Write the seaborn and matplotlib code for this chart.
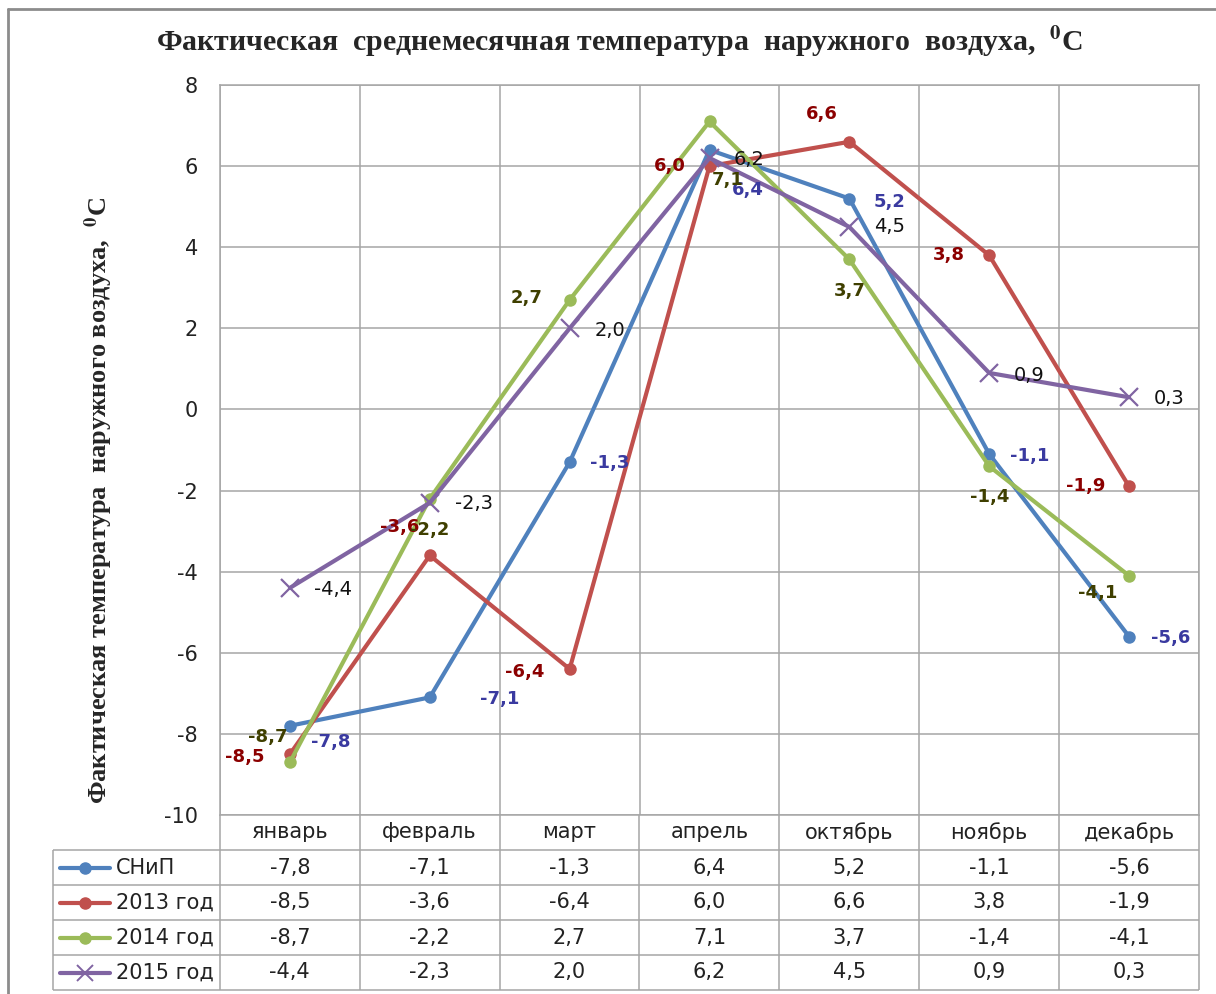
import pandas as pd
import matplotlib.pyplot as plt
import numpy as np
import seaborn as sns
from matplotlib.lines import Line2D

sns.set_style('white')
plt.rcParams['font.family'] = ['DejaVu Sans']
plt.rcParams['axes.unicode_minus'] = False
plt.rcParams['mathtext.fontset'] = 'stix'

months = ['январь', 'февраль', 'март', 'апрель', 'октябрь', 'ноябрь', 'декабрь']
series_names = ['СНиП', '2013 год', '2014 год', '2015 год']
snip = [-7.8, -7.1, -1.3, 6.4, 5.2, -1.1, -5.6]
y2013 = [-8.5, -3.6, -6.4, 6.0, 6.6, 3.8, -1.9]
y2014 = [-8.7, -2.2, 2.7, 7.1, 3.7, -1.4, -4.1]
y2015 = [-4.4, -2.3, 2.0, 6.2, 4.5, 0.9, 0.3]
all_values = [snip, y2013, y2014, y2015]

colors = ['#4F81BD', '#C0504D', '#9BBB59', '#8064A2']
label_colors = ['#3A3AA0', '#8B0000', '#3F3F00', '#111111']
label_weights = ['bold', 'bold', 'bold', 'normal']
label_sizes = [13, 13, 13, 14]

# label offsets in pixels (dx, dy), hand placed like the Excel labels
offsets = [
    [(41, -16), (70, -2), (40, -1), (38, -40), (40, -3), (40, -2), (42, -1)],
    [(-45, -3), (-30, 28), (-45, -3), (-40, 0), (-28, 28), (-40, 0), (-43, 0)],
    [(-22, 25), (0, -31), (-43, 2), (18, -58), (0, -32), (0, -31), (-31, -17)],
    [(43, -2), (44, -1), (40, -2), (40, -2), (40, 0), (40, -3), (40, -1)],
]

def fmt(v):
    return f'{v:.1f}'.replace('.', ',')

rows = []
for name, vals in zip(series_names, all_values):
    for i, v in enumerate(vals):
        rows.append({'series': name, 'x': i, 'val': v})
df = pd.DataFrame(rows)

W, H = 1216, 994
fig = plt.figure(figsize=(W / 100, H / 100), dpi=100)
ax = fig.add_axes([220 / W, 1 - 815 / H, 979 / W, 730 / H])

for s, name in enumerate(series_names):
    sub = df[df['series'] == name]
    if s < 3:
        sns.lineplot(data=sub, x='x', y='val', color=colors[s], linewidth=3,
                     marker='o', markersize=9, markeredgewidth=0, ax=ax, zorder=3 + s)
    else:
        sns.lineplot(data=sub, x='x', y='val', color=colors[s], linewidth=3,
                     marker='x', markersize=13, markeredgewidth=1.6,
                     markeredgecolor=colors[s], ax=ax, zorder=3 + s)

for s, vals in enumerate(all_values):
    for i, v in enumerate(vals):
        ax.annotate(fmt(v), (i, v), xytext=offsets[s][i], textcoords='offset pixels',
                    ha='center', va='center', fontsize=label_sizes[s], color=label_colors[s],
                    fontweight=label_weights[s], zorder=10)

ax.set_xlim(-0.5, 6.5)
ax.set_ylim(-10, 8)
ax.set_yticks(np.arange(-10, 9, 2))
ax.set_xticks(np.arange(-0.5, 7, 1))
ax.set_xticklabels([])
ax.grid(True, color='#A6A6A6', linewidth=1.1)
ax.tick_params(axis='y', length=0, pad=16, labelsize=15, labelcolor='#222222')
ax.tick_params(axis='x', length=0)
for sp in ax.spines.values():
    sp.set_color('#A6A6A6')
    sp.set_linewidth(1.1)
ax.set_xlabel('')
ax.set_ylabel('Фактическая температура  наружного воздуха,  $^{\\mathbf{0}}$С',
              fontsize=19, fontweight='bold', family='Liberation Serif')
ax.yaxis.set_label_coords((115 - 220) / 979, (815 - 500) / 730)

fig.text(620 / W, 1 - 42 / H,
         'Фактическая  среднемесячная температура  наружного  воздуха,  $^{\\mathbf{0}}$С',
         ha='center', va='center', fontsize=21.5, fontweight='bold', family='Liberation Serif')

# data table below the plot
tab = fig.add_axes([53 / W, 1 - 990 / H, 1146 / W, 175 / H])
left = -0.5 - 167 / 140
tab.set_xlim(left, 6.5)
tab.set_ylim(5, 0)
tab.axis('off')
gc = '#A6A6A6'
tab.hlines(np.arange(1, 6), left, 6.5, color=gc, linewidth=1.1, clip_on=False)
tab.vlines(np.arange(-0.5, 7, 1), 0, 5, color=gc, linewidth=1.1, clip_on=False)
tab.vlines([left], 1, 5, color=gc, linewidth=1.1, clip_on=False)
for i, m in enumerate(months):
    tab.text(i, 0.5, m, ha='center', va='center', fontsize=15, color='#222222')
for s, (name, vals) in enumerate(zip(series_names, all_values)):
    yc = s + 1.5
    tab.plot([left + 7 / 140, left + 57 / 140], [yc, yc], color=colors[s], linewidth=3,
             solid_capstyle='round', clip_on=False)
    if s < 3:
        tab.plot([left + 32 / 140], [yc], 'o', color=colors[s], markersize=8, clip_on=False)
    else:
        tab.plot([left + 32 / 140], [yc], 'x', color=colors[s], markersize=12,
                 markeredgewidth=1.4, clip_on=False)
    tab.text(left + 63 / 140, yc, name, ha='left', va='center', fontsize=15, color='#222222')
    for i, v in enumerate(vals):
        tab.text(i, yc, fmt(v), ha='center', va='center', fontsize=15, color='#222222')

# outer chart frame (cropped at right and bottom)
fig.add_artist(Line2D([8 / W, 8 / W], [0, 1 - 9 / H], color='#8C8C8C', linewidth=2))
fig.add_artist(Line2D([8 / W, 1], [1 - 9 / H, 1 - 9 / H], color='#8C8C8C', linewidth=2))

plt.savefig('out.png', dpi=100)
